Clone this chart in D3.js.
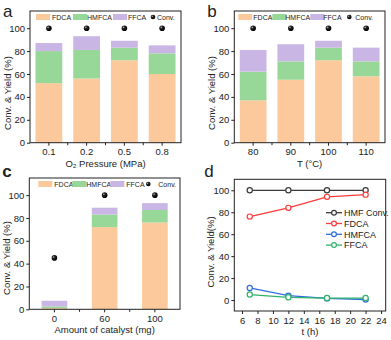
<!DOCTYPE html>
<html>
<head>
<meta charset="utf-8">
<script src="https://cdn.jsdelivr.net/npm/d3@7"></script>
<style>
  body { margin:0; background:#fff; }
  svg text { font-family: "Liberation Sans Narrow", "Arial Narrow", "Liberation Sans", Arial, sans-serif; fill:#222; }
</style>
</head>
<body>
<div id="chart"></div>
<script>
// ---- data ----
var seriesNames = ["FDCA", "HMFCA", "FFCA"];
var barColors = ["#fcc99c", "#97d898", "#c9b6e4"];

// panel a
var o2Pressure = ["0.1", "0.2", "0.5", "0.8"];
var o2FDCA  = [52, 56, 72, 60];
var o2HMFCA = [28, 25, 11, 18];
var o2FFCA  = [7, 12, 6, 7];
var o2Conv  = [100, 100, 100, 100];

// panel b
var tempC = ["80", "90", "100", "110"];
var tFDCA  = [37, 55, 72, 58];
var tHMFCA = [25, 16, 11, 13];
var tFFCA  = [19, 15, 6, 12];
var tConv  = [100, 100, 100, 100];

// panel c
var catalyst = ["0", "60", "100"];
var cFDCA  = [1, 72, 76];
var cHMFCA = [1.5, 11, 11];
var cFFCA  = [5, 6, 6];
var cConv  = [45, 100, 100];

// panel d
var timeH = [7, 12, 17, 22];
var dConv  = [100, 100, 100, 100];
var dFDCA  = [76, 84, 94, 96];
var dHMFCA = [11, 4, 1.5, 0.5];
var dFFCA  = [5, 2.5, 1.8, 1.8];
var lineNames = ["HMF Conv.", "FDCA", "HMFCA", "FFCA"];
var lineColors = ["#3a3a3a", "#ff3b3b", "#2f6fdc", "#2fb36a"];

var yTicks = [0, 20, 40, 60, 80, 100];

var svg = d3.select("#chart").append("svg")
    .attr("width", 391).attr("height", 340);

var defs = svg.append("defs");
var grad = defs.append("radialGradient").attr("id", "ball")
    .attr("cx", "35%").attr("cy", "35%").attr("r", "65%");
grad.append("stop").attr("offset", "0%").attr("stop-color", "#bbb");
grad.append("stop").attr("offset", "35%").attr("stop-color", "#222");
grad.append("stop").attr("offset", "100%").attr("stop-color", "#000");

function frame(g, x0, x1, y0, y1) {
    g.append("rect").attr("x", x0).attr("y", y0)
        .attr("width", x1 - x0).attr("height", y1 - y0)
        .attr("fill", "none").attr("stroke", "#222").attr("stroke-width", 1);
}

function yAxis(g, y, x0, ticks) {
    var ax = g.append("g").attr("transform", "translate(" + x0 + ",0)")
        .call(d3.axisLeft(y).tickValues(ticks).tickSize(3).tickPadding(2));
    ax.select(".domain").remove();
    ax.selectAll("line").attr("stroke", "#222");
    ax.selectAll("text").attr("font-size", 9.5);
}

function barPanel(o) {
    var g = svg.append("g");
    var x = d3.scaleBand().domain(o.cats).range([o.x0, o.x1])
        .paddingInner(o.pad).paddingOuter(o.pad / 2);
    var y = d3.scaleLinear().domain([0, 115]).range([o.y1, o.y0]);

    var rows = o.cats.map(function(c, i) {
        return { cat: c, FDCA: o.s[0][i], HMFCA: o.s[1][i], FFCA: o.s[2][i] };
    });
    var stack = d3.stack().keys(seriesNames)(rows);
    stack.forEach(function(layer, k) {
        g.selectAll(null).data(layer).enter().append("rect")
            .attr("x", function(d) { return x(d.data.cat); })
            .attr("width", x.bandwidth())
            .attr("y", function(d) { return y(d[1]); })
            .attr("height", function(d) { return y(d[0]) - y(d[1]); })
            .attr("fill", barColors[k]);
    });

    g.selectAll(null).data(o.conv).enter().append("circle")
        .attr("cx", function(d, i) { return x(o.cats[i]) + x.bandwidth() / 2; })
        .attr("cy", function(d) { return y(d); })
        .attr("r", 2.8).attr("fill", "url(#ball)");

    frame(g, o.x0, o.x1, o.y0, o.y1);
    yAxis(g, y, o.x0, yTicks);

    // x ticks at centres and minor ticks between groups
    var xa = g.append("g").attr("transform", "translate(0," + o.y1 + ")")
        .call(d3.axisBottom(x).tickSize(3).tickPadding(3));
    xa.select(".domain").remove();
    xa.selectAll("line").attr("stroke", "#222");
    xa.selectAll("text").attr("font-size", 9.5);
    var step = x.step();
    g.selectAll(null).data(o.cats.slice(1)).enter().append("line")
        .attr("x1", function(d) { return x(d) + x.bandwidth() / 2 - step / 2; })
        .attr("x2", function(d) { return x(d) + x.bandwidth() / 2 - step / 2; })
        .attr("y1", o.y1).attr("y2", o.y1 + 2.5).attr("stroke", "#222");

    g.append("text").attr("x", (o.x0 + o.x1) / 2).attr("y", o.y1 + 24)
        .attr("text-anchor", "middle").attr("font-size", 9.5).text(o.xlabel);
    g.append("text").attr("transform", "translate(" + (o.x0 - 19) + "," + o.ylabY + ") rotate(-90)")
        .attr("text-anchor", "middle").attr("font-size", 9.5).text("Conv. & Yield (%)");
    g.append("text").attr("x", o.x0 - 27).attr("y", o.y0 + o.tagDy)
        .attr("font-size", 17).attr("font-family", "Liberation Sans, Arial, sans-serif")
        .attr("font-weight", o.bold ? "bold" : "normal").text(o.tag);

    // legend
    var ly = o.y0 + 6;
    var lg = g.append("g").attr("font-size", 7);
    o.leg.forEach(function(p, k) {
        if (k < 3) {
            lg.append("rect").attr("x", o.x0 + p[0]).attr("y", ly - 3).attr("width", 14).attr("height", 6)
                .attr("fill", barColors[k]);
            lg.append("text").attr("x", o.x0 + p[1]).attr("y", ly + 2.5).text(seriesNames[k]);
        } else {
            lg.append("circle").attr("cx", o.x0 + p[0]).attr("cy", ly).attr("r", 2.3).attr("fill", "url(#ball)");
            lg.append("text").attr("x", o.x0 + p[1]).attr("y", ly + 2.5).text("Conv.");
        }
    });
}

barPanel({ tag: "a", tagDy: 6, cats: o2Pressure, s: [o2FDCA, o2HMFCA, o2FFCA], conv: o2Conv,
    x0: 30, x1: 181, y0: 11, y1: 142.7, pad: 0.29, ylabY: 93,
    xlabel: "O\u2082 Pressure (MPa)",
    leg: [[6, 22], [43, 57], [83, 98], [123, 127]] });

barPanel({ tag: "b", tagDy: 6, cats: tempC, s: [tFDCA, tHMFCA, tFFCA], conv: tConv,
    x0: 234.3, x1: 385, y0: 11, y1: 142.7, pad: 0.29, ylabY: 93,
    xlabel: "T (\u00B0C)",
    leg: [[4, 19], [38, 51], [76, 89], [115, 121]] });

barPanel({ tag: "c", tagDy: -1, bold: true, cats: catalyst, s: [cFDCA, cHMFCA, cFFCA], conv: cConv,
    x0: 29.3, x1: 180, y0: 178, y1: 309.3, pad: 0.49, ylabY: 258,
    xlabel: "Amount of catalyst (mg)",
    leg: [[9, 25], [43, 57], [81, 97], [119, 129]] });

// ---- panel d ----
(function() {
    var x0 = 234.3, x1 = 385.7, y0 = 179.3, y1 = 311;
    var g = svg.append("g");
    var x = d3.scaleLinear().domain([5, 24.6]).range([x0, x1]);
    var y = d3.scaleLinear().domain([-10, 110]).range([y1, y0]);
    var sets = [dConv, dFDCA, dHMFCA, dFFCA];
    var line = d3.line().x(function(d) { return x(d[0]); }).y(function(d) { return y(d[1]); });

    sets.forEach(function(vals, k) {
        var pts = timeH.map(function(t, i) { return [t, vals[i]]; });
        g.append("path").datum(pts).attr("d", line).attr("fill", "none")
            .attr("stroke", lineColors[k]).attr("stroke-width", 1.3);
        g.selectAll(null).data(pts).enter().append("circle")
            .attr("cx", function(d) { return x(d[0]); }).attr("cy", function(d) { return y(d[1]); })
            .attr("r", 2.6).attr("fill", "#fff").attr("stroke", lineColors[k]).attr("stroke-width", 1.2);
    });

    frame(g, x0, x1, y0, y1);
    yAxis(g, y, x0, yTicks);
    var xa = g.append("g").attr("transform", "translate(0," + y1 + ")")
        .call(d3.axisBottom(x).tickValues(d3.range(6, 25, 2)).tickSize(3).tickPadding(3));
    xa.select(".domain").remove();
    xa.selectAll("line").attr("stroke", "#222");
    xa.selectAll("text").attr("font-size", 9.5);

    g.append("text").attr("x", (x0 + x1) / 2).attr("y", y1 + 24)
        .attr("text-anchor", "middle").attr("font-size", 9.5).text("t (h)");
    g.append("text").attr("transform", "translate(" + (x0 - 20) + ",252) rotate(-90)")
        .attr("text-anchor", "middle").attr("font-size", 9.5).text("Conv. & Yield(%)");
    g.append("text").attr("x", x0 - 30).attr("y", y0 - 2)
        .attr("font-size", 17).attr("font-family", "Liberation Sans, Arial, sans-serif").text("d");

    lineNames.forEach(function(nm, k) {
        var ly = 212.7 + k * 10.8;
        g.append("line").attr("x1", 326).attr("x2", 342).attr("y1", ly).attr("y2", ly)
            .attr("stroke", lineColors[k]).attr("stroke-width", 1.3);
        g.append("circle").attr("cx", 334).attr("cy", ly).attr("r", 2.4)
            .attr("fill", "#fff").attr("stroke", lineColors[k]).attr("stroke-width", 1.2);
        g.append("text").attr("x", 344).attr("y", ly + 3.2).attr("font-size", 9).text(nm);
    });
})();
</script>
</body>
</html>
